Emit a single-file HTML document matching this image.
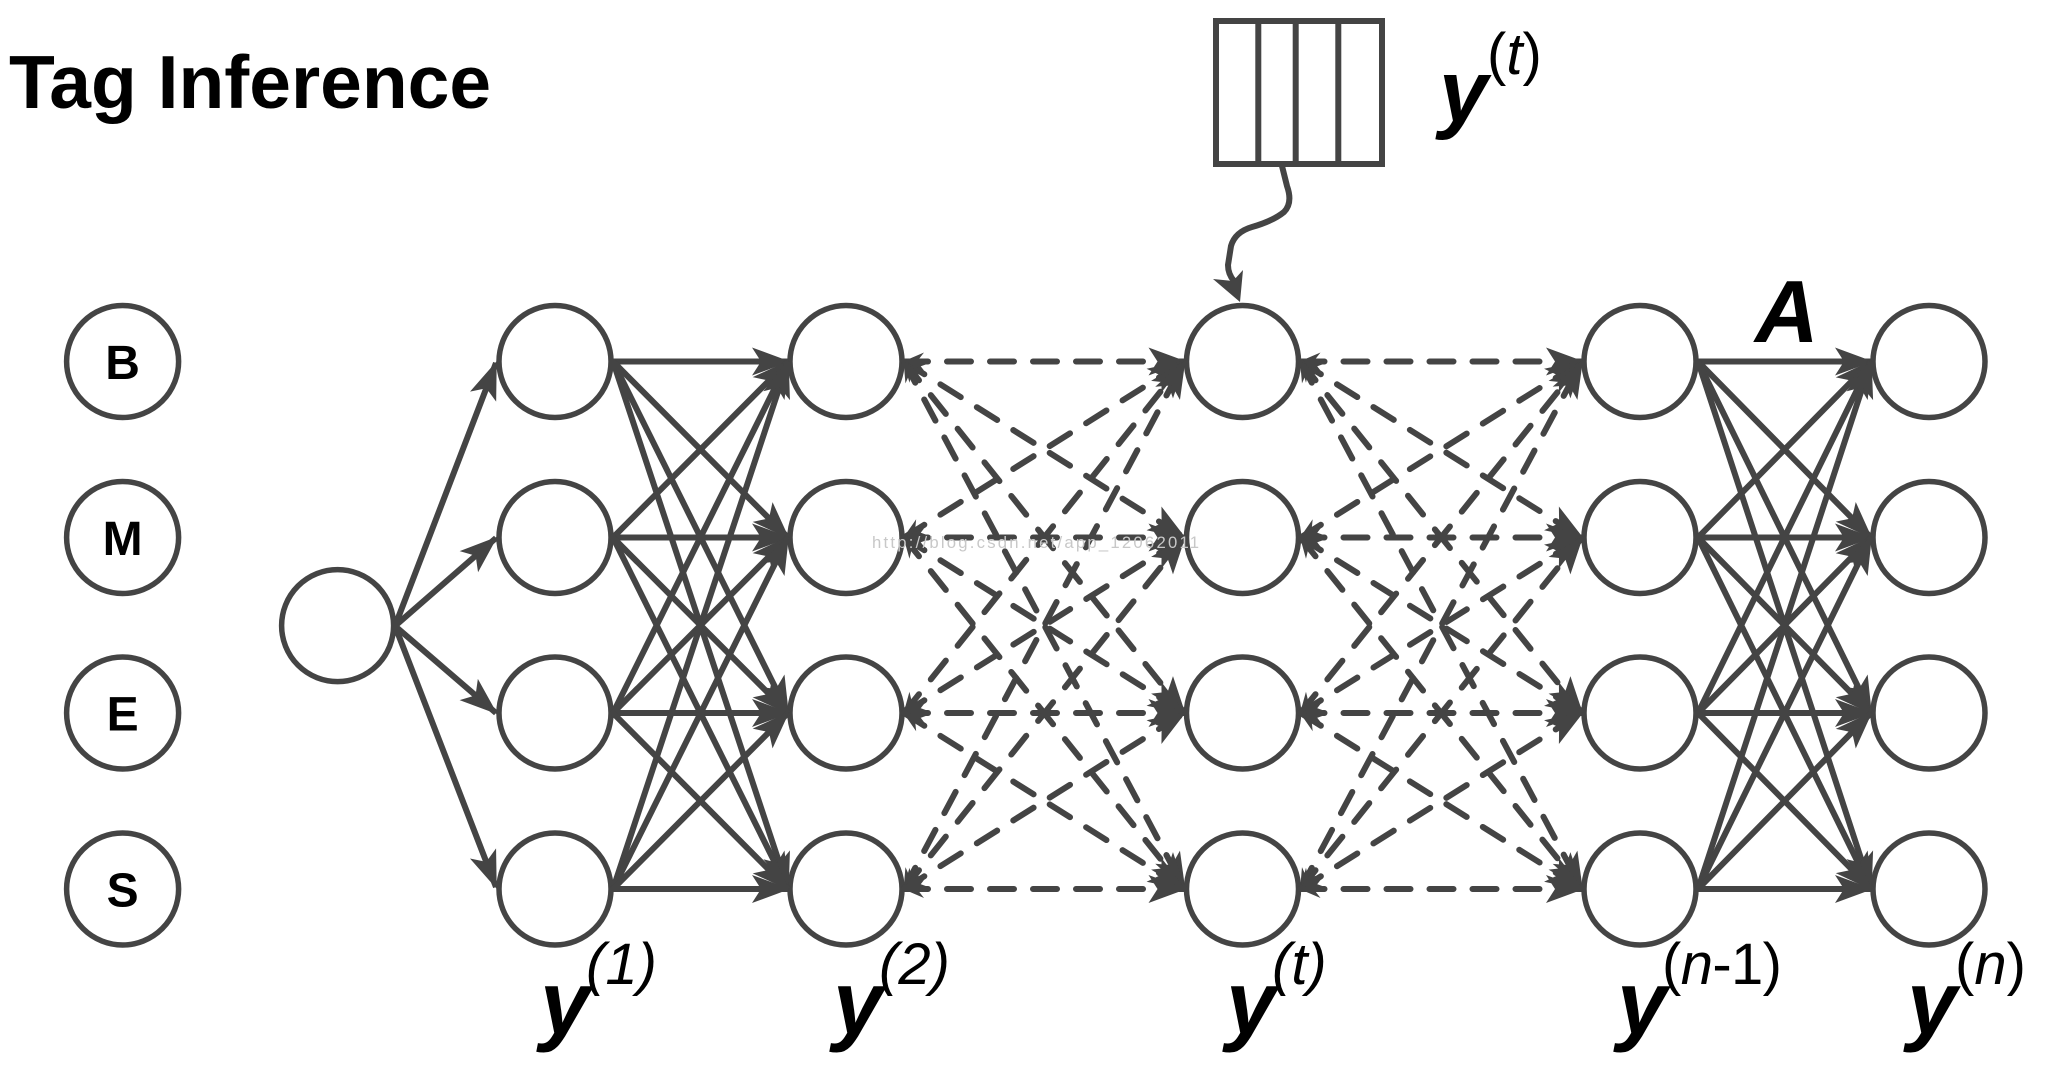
<!DOCTYPE html>
<html>
<head>
<meta charset="utf-8">
<style>
  html, body { margin: 0; padding: 0; background: #ffffff; }
  svg { display: block; }
  .c { fill: #ffffff; stroke: #444444; stroke-width: 5.5; }
  .s { stroke: #444444; stroke-width: 6; fill: none; }
  .d { stroke: #444444; stroke-width: 6; fill: none; stroke-dasharray: 24 19; stroke-linecap: round; }
  text { font-family: "Liberation Sans", sans-serif; fill: #000; }
</style>
</head>
<body>
<svg width="2048" height="1065" viewBox="0 0 2048 1065" xmlns="http://www.w3.org/2000/svg">
  <defs>
    <marker id="ah" markerUnits="userSpaceOnUse" viewBox="-40 -20 44 40" markerWidth="44" markerHeight="40" refX="0" refY="0" orient="auto">
      <path d="M -36 -14 L 2 0 L -36 14 L -27 0 Z" fill="#444444"/>
    </marker>
    <marker id="sh" markerUnits="userSpaceOnUse" viewBox="-4 -12 30 24" markerWidth="30" markerHeight="24" refX="0" refY="0" orient="auto">
      <path d="M 20 -9 L -1 0 L 20 9 L 13 0 Z" fill="#444444"/>
    </marker>
  </defs>

  <!-- Title -->
  <text x="9" y="108" font-size="75" font-weight="bold">Tag Inference</text>

  <!-- Tag circles -->
  <circle class="c" cx="122.6" cy="361.5" r="56"/>
  <circle class="c" cx="122.6" cy="537.5" r="56"/>
  <circle class="c" cx="122.6" cy="713" r="56"/>
  <circle class="c" cx="122.6" cy="889" r="56"/>
  <text x="122.6" y="379" font-size="48" font-weight="bold" text-anchor="middle">B</text>
  <text x="122.6" y="555" font-size="48" font-weight="bold" text-anchor="middle">M</text>
  <text x="122.6" y="730.5" font-size="48" font-weight="bold" text-anchor="middle">E</text>
  <text x="122.6" y="906.5" font-size="48" font-weight="bold" text-anchor="middle">S</text>

  <!-- Start node -->
  <circle class="c" cx="337.6" cy="625.6" r="56"/>

  <!-- Node columns -->
  <g>
    <circle class="c" cx="555" cy="361.5" r="56"/>
    <circle class="c" cx="555" cy="537.5" r="56"/>
    <circle class="c" cx="555" cy="713" r="56"/>
    <circle class="c" cx="555" cy="889" r="56"/>

    <circle class="c" cx="846" cy="361.5" r="56"/>
    <circle class="c" cx="846" cy="537.5" r="56"/>
    <circle class="c" cx="846" cy="713" r="56"/>
    <circle class="c" cx="846" cy="889" r="56"/>

    <circle class="c" cx="1242.5" cy="361.5" r="56"/>
    <circle class="c" cx="1242.5" cy="537.5" r="56"/>
    <circle class="c" cx="1242.5" cy="713" r="56"/>
    <circle class="c" cx="1242.5" cy="889" r="56"/>

    <circle class="c" cx="1640" cy="361.5" r="56"/>
    <circle class="c" cx="1640" cy="537.5" r="56"/>
    <circle class="c" cx="1640" cy="713" r="56"/>
    <circle class="c" cx="1640" cy="889" r="56"/>

    <circle class="c" cx="1929" cy="361.5" r="56"/>
    <circle class="c" cx="1929" cy="537.5" r="56"/>
    <circle class="c" cx="1929" cy="713" r="56"/>
    <circle class="c" cx="1929" cy="889" r="56"/>
  </g>

  <!-- Start arrows -->
  <g>
    <line class="s" x1="395" y1="626" x2="496" y2="363" marker-end="url(#ah)"/>
    <line class="s" x1="395" y1="626" x2="496" y2="538" marker-end="url(#ah)"/>
    <line class="s" x1="395" y1="626" x2="496" y2="713" marker-end="url(#ah)"/>
    <line class="s" x1="395" y1="626" x2="496" y2="887" marker-end="url(#ah)"/>
  </g>

  <!-- Solid y1 -> y2 -->
  <g>
    <line class="s" x1="613" y1="361.5" x2="788" y2="361.5" marker-end="url(#ah)"/>
    <line class="s" x1="613" y1="361.5" x2="788" y2="537.5" marker-end="url(#ah)"/>
    <line class="s" x1="613" y1="361.5" x2="788" y2="713" marker-end="url(#ah)"/>
    <line class="s" x1="613" y1="361.5" x2="788" y2="889" marker-end="url(#ah)"/>
    <line class="s" x1="613" y1="537.5" x2="788" y2="361.5" marker-end="url(#ah)"/>
    <line class="s" x1="613" y1="537.5" x2="788" y2="537.5" marker-end="url(#ah)"/>
    <line class="s" x1="613" y1="537.5" x2="788" y2="713" marker-end="url(#ah)"/>
    <line class="s" x1="613" y1="537.5" x2="788" y2="889" marker-end="url(#ah)"/>
    <line class="s" x1="613" y1="713" x2="788" y2="361.5" marker-end="url(#ah)"/>
    <line class="s" x1="613" y1="713" x2="788" y2="537.5" marker-end="url(#ah)"/>
    <line class="s" x1="613" y1="713" x2="788" y2="713" marker-end="url(#ah)"/>
    <line class="s" x1="613" y1="713" x2="788" y2="889" marker-end="url(#ah)"/>
    <line class="s" x1="613" y1="889" x2="788" y2="361.5" marker-end="url(#ah)"/>
    <line class="s" x1="613" y1="889" x2="788" y2="537.5" marker-end="url(#ah)"/>
    <line class="s" x1="613" y1="889" x2="788" y2="713" marker-end="url(#ah)"/>
    <line class="s" x1="613" y1="889" x2="788" y2="889" marker-end="url(#ah)"/>
  </g>

  <!-- Dashed y2 <-> yt -->
  <g>
    <line class="d" x1="904" y1="361.5" x2="1184.5" y2="361.5" marker-start="url(#sh)" marker-end="url(#ah)"/>
    <line class="d" x1="904" y1="361.5" x2="1184.5" y2="537.5" marker-start="url(#sh)" marker-end="url(#ah)"/>
    <line class="d" x1="904" y1="361.5" x2="1184.5" y2="713" marker-start="url(#sh)" marker-end="url(#ah)"/>
    <line class="d" x1="904" y1="361.5" x2="1184.5" y2="889" marker-start="url(#sh)" marker-end="url(#ah)"/>
    <line class="d" x1="904" y1="537.5" x2="1184.5" y2="361.5" marker-start="url(#sh)" marker-end="url(#ah)"/>
    <line class="d" x1="904" y1="537.5" x2="1184.5" y2="537.5" marker-start="url(#sh)" marker-end="url(#ah)"/>
    <line class="d" x1="904" y1="537.5" x2="1184.5" y2="713" marker-start="url(#sh)" marker-end="url(#ah)"/>
    <line class="d" x1="904" y1="537.5" x2="1184.5" y2="889" marker-start="url(#sh)" marker-end="url(#ah)"/>
    <line class="d" x1="904" y1="713" x2="1184.5" y2="361.5" marker-start="url(#sh)" marker-end="url(#ah)"/>
    <line class="d" x1="904" y1="713" x2="1184.5" y2="537.5" marker-start="url(#sh)" marker-end="url(#ah)"/>
    <line class="d" x1="904" y1="713" x2="1184.5" y2="713" marker-start="url(#sh)" marker-end="url(#ah)"/>
    <line class="d" x1="904" y1="713" x2="1184.5" y2="889" marker-start="url(#sh)" marker-end="url(#ah)"/>
    <line class="d" x1="904" y1="889" x2="1184.5" y2="361.5" marker-start="url(#sh)" marker-end="url(#ah)"/>
    <line class="d" x1="904" y1="889" x2="1184.5" y2="537.5" marker-start="url(#sh)" marker-end="url(#ah)"/>
    <line class="d" x1="904" y1="889" x2="1184.5" y2="713" marker-start="url(#sh)" marker-end="url(#ah)"/>
    <line class="d" x1="904" y1="889" x2="1184.5" y2="889" marker-start="url(#sh)" marker-end="url(#ah)"/>
  </g>

  <!-- Dashed yt <-> y(n-1) -->
  <g>
    <line class="d" x1="1300.5" y1="361.5" x2="1582" y2="361.5" marker-start="url(#sh)" marker-end="url(#ah)"/>
    <line class="d" x1="1300.5" y1="361.5" x2="1582" y2="537.5" marker-start="url(#sh)" marker-end="url(#ah)"/>
    <line class="d" x1="1300.5" y1="361.5" x2="1582" y2="713" marker-start="url(#sh)" marker-end="url(#ah)"/>
    <line class="d" x1="1300.5" y1="361.5" x2="1582" y2="889" marker-start="url(#sh)" marker-end="url(#ah)"/>
    <line class="d" x1="1300.5" y1="537.5" x2="1582" y2="361.5" marker-start="url(#sh)" marker-end="url(#ah)"/>
    <line class="d" x1="1300.5" y1="537.5" x2="1582" y2="537.5" marker-start="url(#sh)" marker-end="url(#ah)"/>
    <line class="d" x1="1300.5" y1="537.5" x2="1582" y2="713" marker-start="url(#sh)" marker-end="url(#ah)"/>
    <line class="d" x1="1300.5" y1="537.5" x2="1582" y2="889" marker-start="url(#sh)" marker-end="url(#ah)"/>
    <line class="d" x1="1300.5" y1="713" x2="1582" y2="361.5" marker-start="url(#sh)" marker-end="url(#ah)"/>
    <line class="d" x1="1300.5" y1="713" x2="1582" y2="537.5" marker-start="url(#sh)" marker-end="url(#ah)"/>
    <line class="d" x1="1300.5" y1="713" x2="1582" y2="713" marker-start="url(#sh)" marker-end="url(#ah)"/>
    <line class="d" x1="1300.5" y1="713" x2="1582" y2="889" marker-start="url(#sh)" marker-end="url(#ah)"/>
    <line class="d" x1="1300.5" y1="889" x2="1582" y2="361.5" marker-start="url(#sh)" marker-end="url(#ah)"/>
    <line class="d" x1="1300.5" y1="889" x2="1582" y2="537.5" marker-start="url(#sh)" marker-end="url(#ah)"/>
    <line class="d" x1="1300.5" y1="889" x2="1582" y2="713" marker-start="url(#sh)" marker-end="url(#ah)"/>
    <line class="d" x1="1300.5" y1="889" x2="1582" y2="889" marker-start="url(#sh)" marker-end="url(#ah)"/>
  </g>

  <!-- Solid y(n-1) -> y(n) -->
  <g>
    <line class="s" x1="1698" y1="361.5" x2="1871" y2="361.5" marker-end="url(#ah)"/>
    <line class="s" x1="1698" y1="361.5" x2="1871" y2="537.5" marker-end="url(#ah)"/>
    <line class="s" x1="1698" y1="361.5" x2="1871" y2="713" marker-end="url(#ah)"/>
    <line class="s" x1="1698" y1="361.5" x2="1871" y2="889" marker-end="url(#ah)"/>
    <line class="s" x1="1698" y1="537.5" x2="1871" y2="361.5" marker-end="url(#ah)"/>
    <line class="s" x1="1698" y1="537.5" x2="1871" y2="537.5" marker-end="url(#ah)"/>
    <line class="s" x1="1698" y1="537.5" x2="1871" y2="713" marker-end="url(#ah)"/>
    <line class="s" x1="1698" y1="537.5" x2="1871" y2="889" marker-end="url(#ah)"/>
    <line class="s" x1="1698" y1="713" x2="1871" y2="361.5" marker-end="url(#ah)"/>
    <line class="s" x1="1698" y1="713" x2="1871" y2="537.5" marker-end="url(#ah)"/>
    <line class="s" x1="1698" y1="713" x2="1871" y2="713" marker-end="url(#ah)"/>
    <line class="s" x1="1698" y1="713" x2="1871" y2="889" marker-end="url(#ah)"/>
    <line class="s" x1="1698" y1="889" x2="1871" y2="361.5" marker-end="url(#ah)"/>
    <line class="s" x1="1698" y1="889" x2="1871" y2="537.5" marker-end="url(#ah)"/>
    <line class="s" x1="1698" y1="889" x2="1871" y2="713" marker-end="url(#ah)"/>
    <line class="s" x1="1698" y1="889" x2="1871" y2="889" marker-end="url(#ah)"/>
  </g>

  <!-- A label -->
  <text x="1755" y="342" font-size="88" font-weight="bold" font-style="italic">A</text>

  <!-- Top box y(t) -->
  <rect x="1216" y="21" width="166" height="143" fill="#ffffff" stroke="#444444" stroke-width="6"/>
  <line x1="1258.3" y1="21" x2="1258.3" y2="164" stroke="#444444" stroke-width="6"/>
  <line x1="1295.7" y1="21" x2="1295.7" y2="164" stroke="#444444" stroke-width="6"/>
  <line x1="1338.3" y1="21" x2="1338.3" y2="164" stroke="#444444" stroke-width="6"/>

  <!-- Wavy connector -->
  <path d="M1282,166 L1287,186 Q1293,203 1284,212 Q1273,221 1252,227 Q1235,232 1231,246 L1228,265 Q1228,274 1234,281"
        fill="none" stroke="#444444" stroke-width="6" stroke-linejoin="round" stroke-linecap="round"/>
  <path d="M1213,279 L1240,302 L1243,270 L1233,281 Z" fill="#444444"/>

  <!-- Top label y(t) -->
  <text x="1439" y="121.5" font-size="88" font-weight="bold" font-style="italic">y</text>
  <text x="1487" y="74" font-size="58">(<tspan font-style="italic">t</tspan>)</text>

  <!-- Bottom labels -->
  <text x="540" y="1034" font-size="90" font-weight="bold" font-style="italic">y</text>
  <text x="586" y="984" font-size="58" font-style="italic">(1)</text>

  <text x="833" y="1034" font-size="90" font-weight="bold" font-style="italic">y</text>
  <text x="879" y="984" font-size="58" font-style="italic">(2)</text>

  <text x="1226" y="1034" font-size="90" font-weight="bold" font-style="italic">y</text>
  <text x="1272" y="984" font-size="58" font-style="italic">(t)</text>

  <text x="1617" y="1034" font-size="90" font-weight="bold" font-style="italic">y</text>
  <text x="1662" y="984" font-size="58" textLength="120">(<tspan font-style="italic">n</tspan>-1)</text>

  <text x="1907" y="1034" font-size="90" font-weight="bold" font-style="italic">y</text>
  <text x="1955" y="984" font-size="58">(<tspan font-style="italic">n</tspan>)</text>

  <!-- Watermark -->
  <text x="872" y="548" font-family="Liberation Mono, monospace" font-size="16.7" fill="#c8c8c8" style="fill:#c8c8c8" textLength="327">http://blog.csdn.net/app_12062011</text>
</svg>
</body>
</html>
